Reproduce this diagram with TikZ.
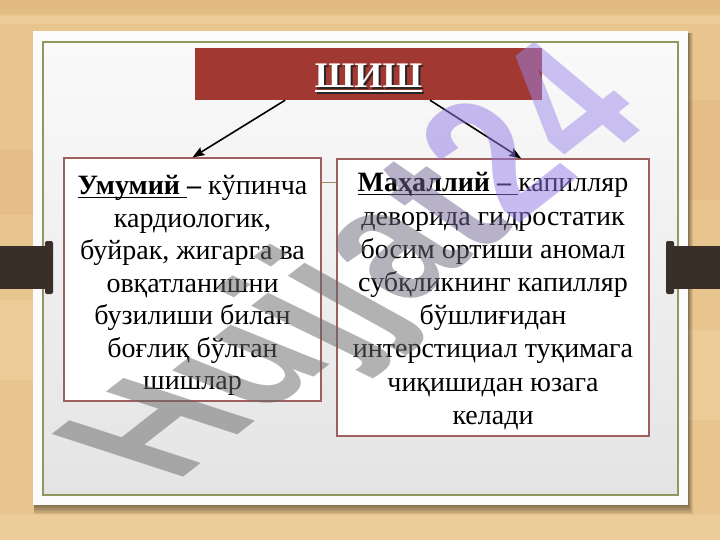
\documentclass[tikz,border=0pt]{standalone}
\usepackage{fontspec}
\setmainfont{Liberation Serif}
\newfontfamily\wmfont{Liberation Sans}
\usetikzlibrary{calc,arrows.meta}
\definecolor{wood}{RGB}{232,196,142}
\definecolor{wooddark}{RGB}{222,182,124}
\definecolor{woodlight}{RGB}{240,210,160}
\definecolor{titlered}{RGB}{161,56,50}
\definecolor{boxred}{RGB}{160,95,95}
\definecolor{framegreen}{RGB}{145,152,95}
\definecolor{connc}{RGB}{150,140,100}
\definecolor{tabbrown}{RGB}{58,47,40}
\definecolor{cardtop}{RGB}{250,250,250}
\definecolor{cardbot}{RGB}{228,228,228}
\definecolor{wmgray}{RGB}{102,102,102}
\definecolor{wmgrayb}{RGB}{106,102,118}
\definecolor{wmt}{RGB}{112,102,145}
\definecolor{wmtwo}{RGB}{145,121,229}
\definecolor{wmfour}{RGB}{155,135,235}
\newsavebox\ulbx
\newcommand\ulbox[3]{\sbox\ulbx{#1}\rlap{\rule[#2]{\wd\ulbx}{#3}}\usebox\ulbx}
\tikzset{
  titlebox/.style={fill=titlered, draw=none, minimum width=347pt, minimum height=52pt, inner sep=0pt},
  txtbox/.style={fill=white, draw=boxred, line width=1.1pt, inner sep=0pt},
  arr/.style={-{Stealth[length=12pt,width=9pt,inset=2pt]}, line width=1.6pt, black},
  conn/.style={draw=connc, line width=0.8pt},
  bodytext/.style={inner sep=0pt, anchor=base, text=black},
  titletext/.style={inner sep=0pt, anchor=base, font=\fontsize{36}{40}\selectfont\bfseries},
  wm/.style={font=\wmfont\bfseries\fontsize{201}{201}\selectfont, inner sep=0pt, outer sep=0pt,
    transform shape, anchor=base west, opacity=0.5, text opacity=0.5},
  tabshape/.style={fill=tabbrown},
}
\begin{document}
\begin{tikzpicture}[x=1pt,y=-1pt]
\useasboundingbox (0,0) rectangle (720,540);
% wooden background
\fill[wood] (0,0) rectangle (720,540);
\fill[wooddark,opacity=0.6] (0,0) rectangle (720,14);
\fill[woodlight,opacity=0.5] (0,16) rectangle (720,24);
\fill[wooddark,opacity=0.4] (0,150) rectangle (33,215);
\fill[woodlight,opacity=0.5] (0,300) rectangle (33,380);
\fill[wooddark,opacity=0.4] (688,100) rectangle (720,200);
\fill[woodlight,opacity=0.5] (688,330) rectangle (720,420);
\fill[woodlight,opacity=0.6] (0,515) rectangle (720,540);
% card shadow
\foreach \i in {1,...,6}{
  \fill[black,opacity=0.08] (34,33) rectangle ({688+\i*0.8},{505+\i*1.5});
}
% card
\fill[white!97!gray] (33,31) rectangle (688,505);
\shade[top color=cardtop, bottom color=cardbot] (43,42) rectangle (678,495);
\draw[framegreen, line width=2pt] (43,42) rectangle (678,495);
% side tabs
\fill[tabshape] (0,246) rectangle (47,289);
\fill[tabshape, rounded corners=2pt] (45,241) rectangle (53,294);
\fill[tabshape] (673,246) rectangle (720,289);
\fill[tabshape, rounded corners=2pt] (666,241) rectangle (674,294);
% title
\node[titlebox] (title) at (368.5,74) {};
\node[titletext, text=black!85] (tshadow) at (370.5,90) {\ulbox{ШИШ}{-4pt}{2pt}};
\node[titletext, text=white] (ttext) at (368.5,88) {\ulbox{ШИШ}{-4pt}{2pt}};
% boxes
\node[txtbox, minimum width=257pt, minimum height=243pt] (lbox) at (192.5,279.5) {};
\node[txtbox, minimum width=312pt, minimum height=277pt] (rbox) at (493,297.5) {};
\draw[conn] ($(lbox.north east)+(0,25)$) -- ($(rbox.north west)+(0,24)$);
% arrows
\coordinate (ta) at ($(title.south west)!0.26!(title.south east)$);
\coordinate (tb) at ($(title.south west)!0.677!(title.south east)$);
\coordinate (la) at (lbox.north);
\coordinate (rb) at ($(rbox.north west)!0.59!(rbox.north east)$);
\draw[arr] (ta) -- (la);
\draw[arr] (tb) -- (rb);
% texts
\node[bodytext] (ltext) at (192.5,195) {\fontsize{28}{32.5}\selectfont
\begin{tabular}[t]{@{}c@{}}
\ulbox{\textbf{Умумий\ }}{-3pt}{1.4pt}\textbf{–} кўпинча\\
кардиологик,\\
буйрак, жигарга ва\\
овқатланишни\\
бузилиши билан\\
боғлиқ бўлган\\
шишлар
\end{tabular}};
\node[bodytext] (rtext) at (493,192) {\fontsize{28}{33.2}\selectfont
\begin{tabular}[t]{@{}c@{}}
\ulbox{\textbf{Маҳаллий – }}{-3pt}{1.4pt}капилляр\\
деворида гидростатик\\
босим ортиши аномал\\
субқликнинг капилляр\\
бўшлиғидан\\
интерстициал туқимага\\
чиқишидан юзага\\
келади
\end{tabular}};
% watermark: letters along a 37 degree baseline, each letter leaning a little differently
\foreach \ch/\cum/\ang/\col [count=\k] in {H/0/162/wmgray, u/0.722/158/wmgray, j/1.333/154/wmgray, j/1.611/151/wmgray, a/1.889/148/wmgrayb, t/2.445/145/wmt, 2/2.778/142/wmtwo, 4/3.334/140/wmfour}{
  \pgfmathsetmacro\sx{175+\cum*122.7}
  \pgfmathsetmacro\sy{483-\cum*92.4}
  \pgfmathsetmacro\cc{cos(\ang)}
  \pgfmathsetmacro\dd{sin(\ang)}
  \begin{scope}[shift={(\sx,\sy)}, cm={0.607,0.474,\cc,\dd,(0,0)}]
    \node[wm, text=\col] (wm\k) at (0,0) {\ch};
  \end{scope}
}
\end{tikzpicture}
\end{document}
